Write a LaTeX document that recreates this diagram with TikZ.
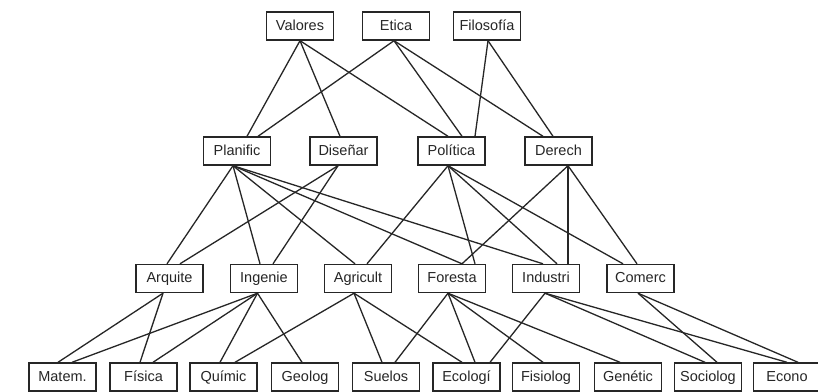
\documentclass[tikz,border=0pt]{standalone}
\usepackage{fontspec}
\setmainfont{Liberation Sans}
\usepackage{xcolor}
\usepackage{tikz}
\usetikzlibrary{positioning}

\begin{document}
\begin{tikzpicture}[
      x=1pt, y=-1pt,
      field/.style={draw=black!85, line width=1.4pt, minimum width=67pt, minimum height=28pt, inner sep=2pt, text height=11pt, text depth=3pt, font=\fontsize{14.5}{16}\selectfont, text=black!85},
      link/.style={draw=black!85, line width=1.3pt}
    ]
    \useasboundingbox[fill=white] (0,0) rectangle (818,391);

    % values layer
    \node[field] (valores) at (300,26) {Valores};
    \node[field] (etica) at (396,26) {Etica};
    \node[field] (filosofia) at (487,26) {Filosofía};

    % activities layer
    \node[field] (planific) at (237,151) {Planific};
    \node[field] (disenar) at (343.5,151) {Diseñar};
    \node[field] (politica) at (451.5,151) {Política};
    \node[field] (derech) at (558.5,151) {Derech};

    % applied fields
    \node[field] (arquite) at (169.5,278.5) {Arquite};
    \node[field] (ingenie) at (264,278.5) {Ingenie};
    \node[field] (agricult) at (358,278.5) {Agricult};
    \node[field] (foresta) at (452,278.5) {Foresta};
    \node[field] (industri) at (546,278.5) {Industri};
    \node[field] (comerc) at (640.5,278.5) {Comerc};

    % basic sciences
    \node[field] (matem) at (62.5,377) {Matem.};
    \node[field] (fisica) at (143.5,377) {Física};
    \node[field] (quimic) at (223.5,377) {Químic};
    \node[field] (geolog) at (305,377) {Geolog};
    \node[field] (suelos) at (386,377) {Suelos};
    \node[field] (ecologi) at (466.5,377) {Ecologí};
    \node[field] (fisiolog) at (546,377) {Fisiolog};
    \node[field] (genetic) at (628,377) {Genétic};
    \node[field] (sociolog) at (708,377) {Sociolog};
    \node[field] (econo) at (787,377) {Econo};

    \draw[link] (valores.south) -- ([xshift=10pt]planific.north);
    \draw[link] (valores.south) -- ([xshift=-3.5pt]disenar.north);
    \draw[link] (valores.south) -- ([xshift=-3.5pt]politica.north);
    \draw[link] ([xshift=-2pt]etica.south) -- ([xshift=21pt]planific.north);
    \draw[link] ([xshift=-2pt]etica.south) -- ([xshift=10.5pt]politica.north);
    \draw[link] ([xshift=-2pt]etica.south) -- ([xshift=-15.5pt]derech.north);
    \draw[link] ([xshift=1pt]filosofia.south) -- ([xshift=23.5pt]politica.north);
    \draw[link] ([xshift=1pt]filosofia.south) -- ([xshift=-5.5pt]derech.north);

    \draw[link] ([xshift=-4pt]planific.south) -- ([xshift=-2.5pt]arquite.north);
    \draw[link] ([xshift=-4pt]planific.south) -- ([xshift=-4pt]ingenie.north);
    \draw[link] ([xshift=-4pt]planific.south) -- ([xshift=-3pt]agricult.north);
    \draw[link] ([xshift=-4pt]planific.south) -- ([xshift=10pt]foresta.north);
    \draw[link] ([xshift=-4pt]planific.south) -- ([xshift=-3pt]industri.north);
    \draw[link] ([xshift=-5.5pt]disenar.south) -- ([xshift=10.5pt]arquite.north);
    \draw[link] ([xshift=-5.5pt]disenar.south) -- ([xshift=9pt]ingenie.north);
    \draw[link] ([xshift=-3.5pt]politica.south) -- ([xshift=9pt]agricult.north);
    \draw[link] ([xshift=-3.5pt]politica.south) -- ([xshift=23pt]foresta.north);
    \draw[link] ([xshift=-3.5pt]politica.south) -- ([xshift=11pt]industri.north);
    \draw[link] ([xshift=-3.5pt]politica.south) -- ([xshift=-17.5pt]comerc.north);
    \draw[link] ([xshift=9.5pt]derech.south) -- ([xshift=10pt]foresta.north);
    \draw[link] ([xshift=9.5pt]derech.south) -- ([xshift=22pt]industri.north);
    \draw[link] ([xshift=9.5pt]derech.south) -- ([xshift=-3.5pt]comerc.north);

    \draw[link] ([xshift=-6.5pt]arquite.south) -- ([xshift=-4.5pt]matem.north);
    \draw[link] ([xshift=-6.5pt]arquite.south) -- ([xshift=-3.5pt]fisica.north);
    \draw[link] ([xshift=-6.5pt]ingenie.south) -- ([xshift=9.5pt]matem.north);
    \draw[link] ([xshift=-6.5pt]ingenie.south) -- ([xshift=9.5pt]fisica.north);
    \draw[link] ([xshift=-6.5pt]ingenie.south) -- ([xshift=-3.5pt]quimic.north);
    \draw[link] ([xshift=-6.5pt]ingenie.south) -- ([xshift=-3pt]geolog.north);
    \draw[link] ([xshift=-4pt]agricult.south) -- ([xshift=11.5pt]quimic.north);
    \draw[link] ([xshift=-4pt]agricult.south) -- ([xshift=-4pt]suelos.north);
    \draw[link] ([xshift=-4pt]agricult.south) -- ([xshift=-4.5pt]ecologi.north);
    \draw[link] ([xshift=-4pt]foresta.south) -- ([xshift=9pt]suelos.north);
    \draw[link] ([xshift=-4pt]foresta.south) -- ([xshift=8.5pt]ecologi.north);
    \draw[link] ([xshift=-4pt]foresta.south) -- ([xshift=-3pt]fisiolog.north);
    \draw[link] ([xshift=-4pt]foresta.south) -- ([xshift=-8pt]genetic.north);
    \draw[link] ([xshift=-1pt]industri.south) -- ([xshift=23.5pt]ecologi.north);
    \draw[link] ([xshift=-1pt]industri.south) -- ([xshift=-3pt]sociolog.north);
    \draw[link] ([xshift=-1pt]industri.south) -- (econo.north);
    \draw[link] ([xshift=-2.5pt]comerc.south) -- ([xshift=9pt]sociolog.north);
    \draw[link] ([xshift=-2.5pt]comerc.south) -- ([xshift=11pt]econo.north);
  \end{tikzpicture}
\end{document}
